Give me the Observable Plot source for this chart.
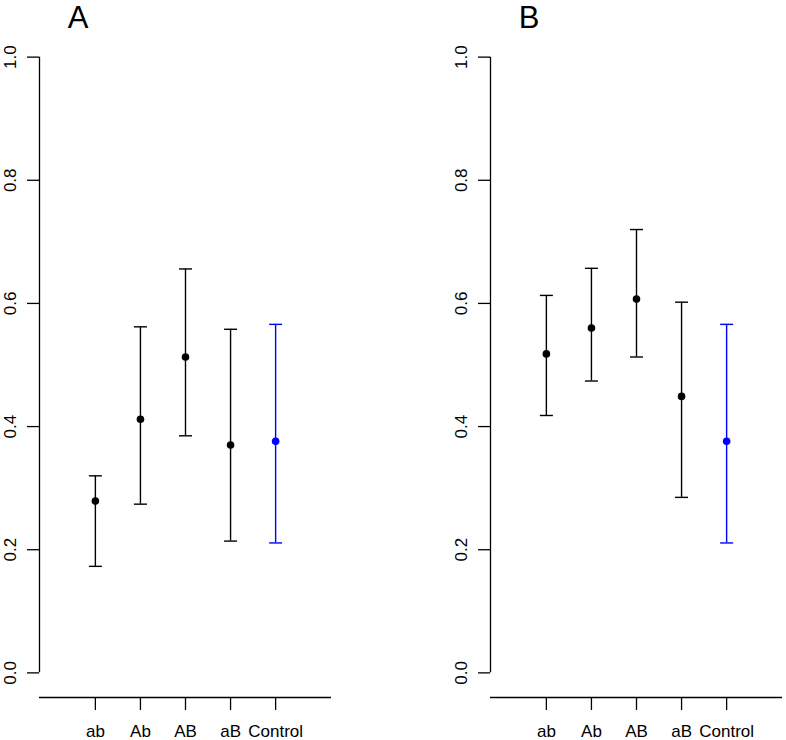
<!DOCTYPE html>
<html>
<head>
<meta charset="utf-8">
<script src="https://cdn.jsdelivr.net/npm/d3@7"></script>
<script src="https://cdn.jsdelivr.net/npm/@observablehq/plot@0.6"></script>
<style>
  html, body { margin: 0; padding: 0; background: #fff; }
  #wrap { display: flex; flex-direction: row; width: 786px; height: 740px; }
  svg { font-family: "Liberation Sans", Arial, sans-serif; }
</style>
</head>
<body>
<div id="wrap"></div>
<script>
const groups = ["ab", "Ab", "AB", "aB", "Control"];
const groupColors = ["black", "black", "black", "black", "#0000ff"];
const yTicks = [0, 0.2, 0.4, 0.6, 0.8, 1.0];
const yTickLabels = ["0.0", "0.2", "0.4", "0.6", "0.8", "1.0"];

const meanA  = [0.279, 0.412, 0.513, 0.370, 0.376];
const lowerA = [0.173, 0.274, 0.385, 0.214, 0.211];
const upperA = [0.320, 0.562, 0.656, 0.558, 0.566];

const meanB  = [0.518, 0.560, 0.607, 0.449, 0.376];
const lowerB = [0.418, 0.474, 0.513, 0.285, 0.211];
const upperB = [0.613, 0.657, 0.720, 0.602, 0.566];

const xDomain = [-0.24, 6.24];
const yDomain = [-0.04, 1.04];

const capSymbol = {
  draw(ctx, size) {
    const r = Math.sqrt(size / Math.PI);
    ctx.moveTo(-r, 0);
    ctx.lineTo(r, 0);
  }
};

function panel(title, mean, lower, upper, marginLeft, marginRight) {
  const rows = groups.map((g, i) => ({
    g, pos: i + 1, mean: mean[i], lo: lower[i], hi: upper[i], color: groupColors[i]
  }));
  const tickRows = yTicks.map((v, i) => ({v, label: yTickLabels[i]}));
  return Plot.plot({
    width: 393,
    height: 740,
    marginLeft, marginRight,
    marginTop: 32,
    marginBottom: 43,
    style: {fontFamily: "Liberation Sans, Arial, sans-serif", background: "white"},
    x: {type: "linear", domain: xDomain, axis: null, label: null},
    y: {type: "linear", domain: yDomain, axis: null, label: null},
    marks: [
      // y axis line (spans tick range only)
      Plot.ruleX([xDomain[0]], {y1: yTicks[0], y2: yTicks[yTicks.length - 1], stroke: "black", strokeWidth: 1.3}),
      // y ticks
      Plot.axisY({ticks: yTicks, tickSize: 12, tickFormat: () => "", label: null, strokeWidth: 1.3, stroke: "black"}),
      // y tick labels (rotated)
      Plot.text(tickRows, {x: () => xDomain[0], y: "v", text: "label", rotate: -90, dx: -29,
        textAnchor: "middle", lineAnchor: "middle", fontSize: 17, fill: "black"}),
      // x axis line
      Plot.ruleY([yDomain[0]], {x1: xDomain[0], x2: xDomain[1], stroke: "black", strokeWidth: 1.3}),
      // x ticks and labels
      Plot.axisX({ticks: [1, 2, 3, 4, 5], tickSize: 13, tickPadding: 14, label: null,
        tickFormat: d => groups[d - 1], fontSize: 17, strokeWidth: 1.3, stroke: "black", fill: "black"}),
      // error bars
      Plot.ruleX(rows, {x: "pos", y1: "lo", y2: "hi", stroke: "color", strokeWidth: 1.4}),
      Plot.dot(rows, {x: "pos", y: "hi", symbol: capSymbol, r: 6.5, stroke: "color", strokeWidth: 1.4}),
      Plot.dot(rows, {x: "pos", y: "lo", symbol: capSymbol, r: 6.5, stroke: "color", strokeWidth: 1.4}),
      // means
      Plot.dot(rows, {x: "pos", y: "mean", r: 3.8, fill: "color", stroke: "none"}),
      // panel title
      Plot.text([title], {frameAnchor: "top-left", dx: 38.5, dy: -5, textAnchor: "middle",
        lineAnchor: "bottom", fontSize: 31, fontWeight: 300, fill: "black"})
    ]
  });
}

const wrap = document.getElementById("wrap");
wrap.appendChild(panel("A", meanA, lowerA, upperA, 39, 62));
wrap.appendChild(panel("B", meanB, lowerB, upperB, 97, 4));
</script>
</body>
</html>
